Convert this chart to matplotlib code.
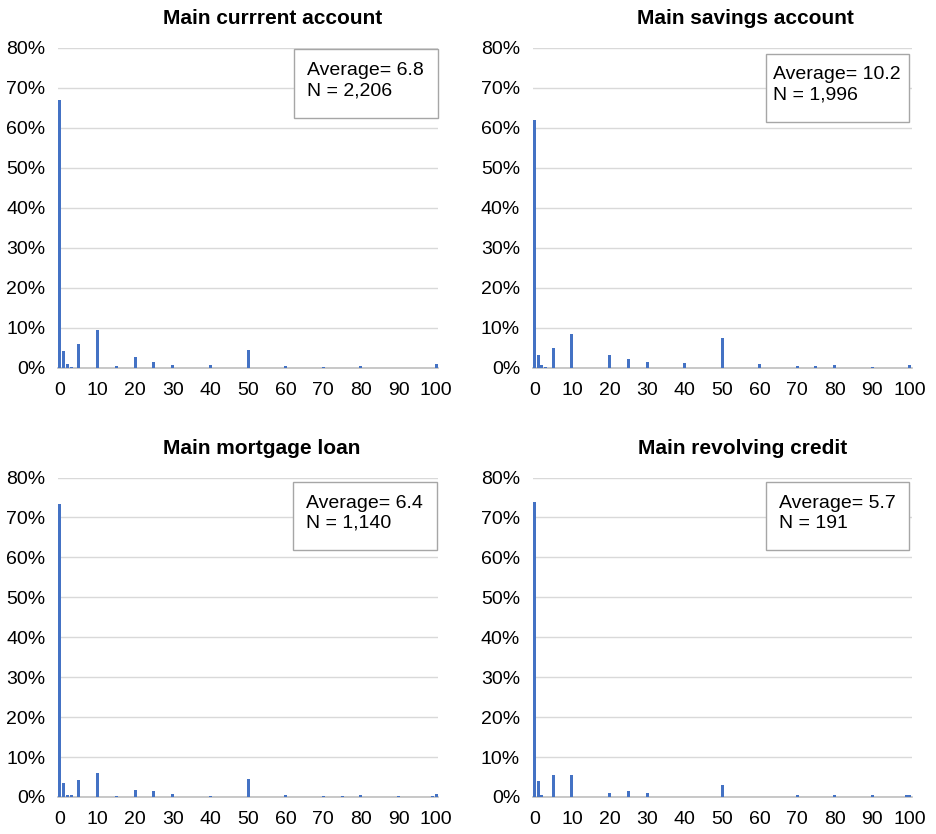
import matplotlib.pyplot as plt
from matplotlib.patches import Rectangle
from matplotlib.ticker import FuncFormatter

# shares (%) by answer value
current_x = [0, 1, 2, 3, 5, 10, 15, 20, 25, 30, 40, 50, 60, 70, 80, 100]
current_pct = [67, 4.1, 1.0, 0.3, 6.0, 9.5, 0.4, 2.7, 1.5, 0.8, 0.6, 4.5, 0.4, 0.2, 0.4, 0.9]

savings_x = [0, 1, 2, 3, 5, 10, 20, 25, 30, 40, 50, 60, 70, 75, 80, 90, 100]
savings_pct = [62, 3.3, 0.6, 0.2, 5.0, 8.5, 3.2, 2.1, 1.5, 1.3, 7.5, 0.9, 0.5, 0.4, 0.6, 0.3, 0.7]

mortgage_x = [0, 1, 2, 3, 5, 10, 15, 20, 25, 30, 40, 50, 60, 70, 75, 80, 90, 99, 100]
mortgage_pct = [73.5, 3.5, 0.6, 0.5, 4.3, 6.0, 0.3, 1.7, 1.5, 0.7, 0.2, 4.6, 0.4, 0.2, 0.2, 0.4, 0.2, 0.3, 0.7]

revolving_x = [0, 1, 2, 5, 10, 20, 25, 30, 50, 70, 80, 90, 99, 100]
revolving_pct = [74, 4.0, 0.5, 5.6, 5.6, 1.0, 1.5, 1.0, 3.1, 0.5, 0.5, 0.5, 0.5, 0.5]

titles = ['Main currrent account', 'Main savings account', 'Main mortgage loan', 'Main revolving credit']
averages = ['6.8', '10.2', '6.4', '5.7']
counts = ['2,206', '1,996', '1,140', '191']

panels = [(current_x, current_pct), (savings_x, savings_pct),
          (mortgage_x, mortgage_pct), (revolving_x, revolving_pct)]

positions = [[0.062, 0.559, 0.406, 0.384], [0.569, 0.559, 0.405, 0.384],
             [0.062, 0.0444, 0.406, 0.383], [0.569, 0.0444, 0.405, 0.383]]
boxes = [(0.621, 0.781, 0.379, 0.213), (0.615, 0.769, 0.378, 0.212),
         (0.618, 0.774, 0.379, 0.213), (0.615, 0.774, 0.378, 0.213)]
text_dx = [0.034, 0.018, 0.034, 0.034]
title_x = [0.566, 0.562, 0.536, 0.553]

plt.rcParams['font.family'] = ['Liberation Sans', 'DejaVu Sans']
fig = plt.figure(figsize=(9.36, 8.34), dpi=100)

for i, (xs, ys) in enumerate(panels):
    ax = fig.add_axes(positions[i])
    ax.bar(xs, ys, width=0.8, color='#4472C4', zorder=3)
    ax.set_xlim(-0.5, 100.5)
    ax.set_ylim(0, 80)
    ax.set_yticks(range(0, 81, 10))
    ax.set_xticks(range(0, 101, 10))
    ax.yaxis.set_major_formatter(FuncFormatter(lambda v, p: '%d%%' % v))
    ax.tick_params(length=0, labelsize=14, colors='black')
    ax.tick_params(axis='x', pad=10)
    ax.tick_params(axis='y', pad=9)
    ax.grid(axis='y', color='#D9D9D9', linewidth=1, zorder=0)
    for s in ['top', 'right', 'left']:
        ax.spines[s].set_visible(False)
    ax.spines['bottom'].set_color('#BFBFBF')
    ax.spines['bottom'].set_linewidth(1.2)
    ax.set_title(titles[i], fontsize=15, fontweight='bold', pad=17, x=title_x[i])
    bx, by, bw, bh = boxes[i]
    ax.add_patch(Rectangle((bx, by), bw, bh, transform=ax.transAxes, facecolor='white',
                           edgecolor='#A6A6A6', linewidth=1, zorder=5, clip_on=False))
    ax.text(bx + text_dx[i], by + bh / 2 + 0.008, 'Average= %s\nN = %s' % (averages[i], counts[i]),
            transform=ax.transAxes, fontsize=14, va='center', ha='left', zorder=6,
            linespacing=1.25)

plt.savefig('out.png', dpi=100)
